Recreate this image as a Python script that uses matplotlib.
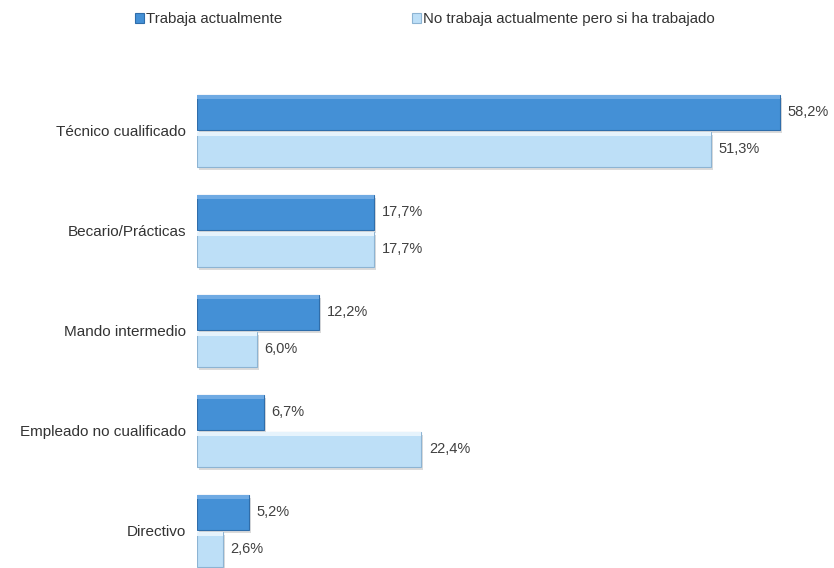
import matplotlib
matplotlib.use("Agg")
import matplotlib.pyplot as plt
import numpy as np

categories = ["Técnico cualificado", "Becario/Prácticas", "Mando intermedio",
              "Empleado no cualificado", "Directivo"]
trabaja = [58.2, 17.7, 12.2, 6.7, 5.2]
no_trabaja = [51.3, 17.7, 6.0, 22.4, 2.6]
series_names = ["Trabaja actualmente", "No trabaja actualmente pero si ha trabajado"]

plt.rcParams['font.family'] = ['Liberation Sans', 'DejaVu Sans']

W, H = 834, 568
fig = plt.figure(figsize=(W/100, H/100), dpi=100)
left_px, right_px = 197, 800
top_px = 80
ax = fig.add_axes([left_px/W, 0, (right_px-left_px)/W, 1 - top_px/H])

y = np.arange(len(categories))
off = 0.185
h = 0.35
dark = "#4490D6"
light = "#BDDFF7"

# shadows
ax.barh(y - off + 0.03, trabaja, height=h, left=0.15, color="#9a9a9a", alpha=0.35, zorder=1, linewidth=0)
ax.barh(y + off + 0.03, no_trabaja, height=h, left=0.15, color="#9a9a9a", alpha=0.35, zorder=1, linewidth=0)

b1 = ax.barh(y - off, trabaja, height=h, color=dark, edgecolor="#2F6DAA", linewidth=0.8, zorder=2,
             label=series_names[0])
b2 = ax.barh(y + off, no_trabaja, height=h, color=light, edgecolor="#8DB4D3", linewidth=0.8, zorder=2,
             label=series_names[1])

# highlight top edge (bevel look)
ax.barh(y - off - h/2 + 0.02, trabaja, height=0.04, color="#6FAAE3", linewidth=0, zorder=3)
ax.barh(y + off - h/2 + 0.02, no_trabaja, height=0.04, color="#E6F3FC", linewidth=0, zorder=3)

for yi, v in zip(y, trabaja):
    ax.text(v + 0.75, yi - off, f"{v:.1f}%".replace(".", ","), va="center", ha="left",
            fontsize=10.5, color="#404040")
for yi, v in zip(y, no_trabaja):
    ax.text(v + 0.75, yi + off, f"{v:.1f}%".replace(".", ","), va="center", ha="left",
            fontsize=10.5, color="#404040")

ax.set_xlim(0, (right_px-left_px)/10.02)
ax.set_ylim(4.37, -0.51)
ax.set_yticks(y)
ax.set_yticklabels(categories, fontsize=11, color="#333333")
ax.tick_params(axis='y', length=0, pad=8)
ax.set_xticks([])
for s in ax.spines.values():
    s.set_visible(False)

fig.legend(handles=[b1, b2], labels=series_names, ncol=2, frameon=False,
           loc="upper left", bbox_to_anchor=(121/W, 1 + 1/H), fontsize=10.8,
           handlelength=0.6, handleheight=0.6, handletextpad=0.15, columnspacing=8.65,
           labelcolor="#333333")

fig.savefig("out.png", dpi=100)
